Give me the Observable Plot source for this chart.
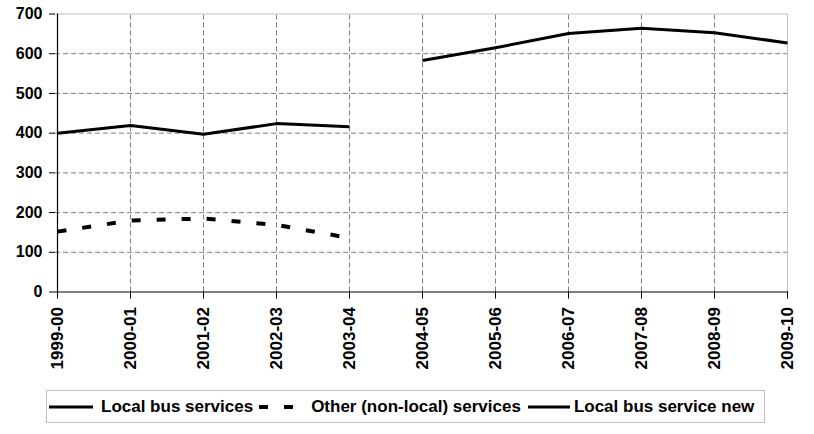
<!DOCTYPE html>
<html>
<head>
<meta charset="utf-8">
<script src="https://cdn.jsdelivr.net/npm/d3@7"></script>
<script src="https://cdn.jsdelivr.net/npm/@observablehq/plot@0.6"></script>
<style>
  html, body { margin: 0; padding: 0; background: #fff; }
  #wrap { position: relative; width: 814px; height: 434px; font-family: "Liberation Sans", Arial, sans-serif; }
  #legend {
    position: absolute; left: 46px; top: 390px; width: 719px; height: 33px;
    box-sizing: border-box; border: 1px solid #c0c0c0;
    display: flex; align-items: center; font-weight: bold; font-size: 17px; color: #000;
    white-space: nowrap;
  }
  #legend svg { display: block; }
</style>
</head>
<body>
<div id="wrap">
  <div id="chart"></div>
  <div id="legend"></div>
</div>
<script>
const years = ["1999-00","2000-01","2001-02","2002-03","2003-04","2004-05","2005-06","2006-07","2007-08","2008-09","2009-10"];
const localBus = [400, 419, 397, 424, 416, null, null, null, null, null, null];
const otherServices = [152, 180, 185, 169, 136, null, null, null, null, null, null];
const localBusNew = [null, null, null, null, null, 583, 615, 651, 664, 653, 627];
const yTicks = [0, 100, 200, 300, 400, 500, 600, 700];
const seriesNames = ["Local bus services", "Other (non-local) services", "Local bus service new"];

const toRows = (vals) => years.map((x, i) => ({x, y: vals[i]})).filter(d => d.y != null);
const rowsLocal = toRows(localBus);
const rowsOther = toRows(otherServices);
const rowsNew = toRows(localBusNew);

const gridY = yTicks.slice(1, -1);
const gridX = years.slice(1, -1);

const chart = Plot.plot({
  width: 814,
  height: 380,
  marginLeft: 55,
  marginRight: 26,
  marginTop: 13.5,
  marginBottom: 88.5,
  style: {fontFamily: "'Liberation Sans', Arial, sans-serif", fontWeight: "bold", color: "#000", background: "#fff"},
  x: {type: "point", domain: years, padding: 0},
  y: {domain: [0, 700]},
  marks: [
    Plot.ruleY(gridY, {stroke: "#808080", strokeWidth: 1, strokeDasharray: "5,3"}),
    Plot.ruleX(gridX, {y1: 0, y2: 700, stroke: "#808080", strokeWidth: 1, strokeDasharray: "5,3"}),
    Plot.ruleY([700], {stroke: "#c0c0c0", strokeWidth: 1}),
    Plot.ruleX([years[years.length - 1]], {y1: 0, y2: 700, stroke: "#c0c0c0", strokeWidth: 1}),
    Plot.ruleX([years[0]], {y1: 0, y2: 700, stroke: "#000", strokeWidth: 1.2}),
    Plot.ruleY([0], {stroke: "#000", strokeWidth: 1.2}),
    Plot.line(rowsLocal, {x: "x", y: "y", stroke: "#000", strokeWidth: 3, strokeLinecap: "butt"}),
    Plot.line(rowsOther, {x: "x", y: "y", stroke: "#000", strokeWidth: 4, strokeDasharray: "9,16", strokeLinecap: "butt"}),
    Plot.line(rowsNew, {x: "x", y: "y", stroke: "#000", strokeWidth: 3, strokeLinecap: "butt"}),
    Plot.axisY({ticks: yTicks, tickSize: 6, tickPadding: 7, label: null, fontSize: 16, stroke: "#000"}),
    Plot.axisX({tickSize: 7, tickPadding: 8, tickRotate: -90, label: null, fontSize: 17, stroke: "#000"})
  ]
});
document.getElementById("chart").appendChild(chart);

// Legend
const legend = document.getElementById("legend");
const swatch = (w, dash, sw, ml, mr) => {
  const s = d3.create("svg").attr("width", w).attr("height", 10)
    .style("margin-left", ml + "px").style("margin-right", mr + "px");
  s.append("line").attr("x1", 0).attr("x2", w).attr("y1", 5).attr("y2", 5)
    .attr("stroke", "#000").attr("stroke-width", sw)
    .attr("stroke-dasharray", dash || null);
  return s.node();
};
const label = (t) => { const sp = document.createElement("span"); sp.textContent = t; return sp; };
legend.appendChild(swatch(44, null, 3, 2, 8));
legend.appendChild(label(seriesNames[0]));
legend.appendChild(swatch(35, "9,16", 4, 6, 17));
legend.appendChild(label(seriesNames[1]));
legend.appendChild(swatch(42, null, 3, 7, 4));
legend.appendChild(label(seriesNames[2]));
</script>
</body>
</html>
